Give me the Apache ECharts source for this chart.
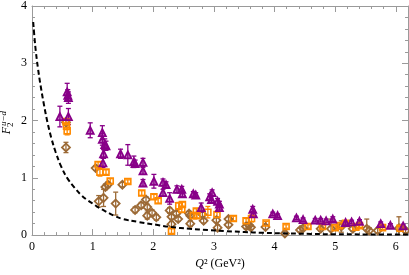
<!DOCTYPE html>
<html><head><meta charset="utf-8">
<script src="https://cdn.jsdelivr.net/npm/echarts/dist/echarts.min.js"></script>
<style>html,body{margin:0;padding:0;background:#fff}#c{width:409px;height:275px}</style>
</head><body><div id="c"></div>
<script>
// Dashed curve
const curveQ2 = [0.02,0.04,0.063,0.1,0.145,0.2,0.255,0.32,0.39,0.48,0.585,0.70,0.80,0.90,1.0,1.1,1.22,1.35,1.5,1.75,2.05,2.3,2.6,2.9,3.2,3.5,3.8,4.2,4.6,5.0,5.5,6.2];
const curveF  = [3.72,3.46,3.21,2.90,2.59,2.26,1.97,1.69,1.45,1.20,0.99,0.83,0.71,0.62,0.55,0.48,0.41,0.34,0.28,0.23,0.18,0.14,0.11,0.09,0.07,0.055,0.04,0.03,0.02,0.015,0.012,0.01];

// Purple triangles
const purpleQ2 = [0.58,0.59,0.60,0.46,0.60,0.96,1.16,1.16,1.20,1.22,1.18,1.17,1.46,1.58,1.68,1.70,1.83,1.83,1.83,2.01,2.16,2.21,2.16,2.27,2.39,2.47,2.48,2.66,2.70,2.79,2.93,2.96,2.97,3.06,3.09,3.09,3.64,3.65,3.97,4.05,4.36,4.47,4.67,4.76,4.85,4.96,5.17,5.27,5.40,5.75,5.91,6.12];
const purpleF  = [2.50,2.44,2.40,2.07,2.07,1.83,1.79,1.67,1.58,1.56,1.42,1.26,1.42,1.40,1.28,1.25,1.27,1.12,0.91,0.94,0.92,0.88,0.74,0.64,0.80,0.80,0.72,0.72,0.70,0.48,0.67,0.62,0.74,0.59,0.54,0.48,0.45,0.37,0.37,0.34,0.30,0.27,0.26,0.26,0.25,0.28,0.22,0.23,0.24,0.20,0.17,0.16];
const purpleErr= [0.15,0.10,0.10,0.18,0.14,0.13,0.12,0.10,0.10,0.08,0.08,0.08,0.08,0.18,0.10,0.06,0.07,0.06,0.06,0.12,0.06,0.05,0.06,0.10,0.06,0.05,0.05,0.04,0.04,0.08,0.05,0.05,0.05,0.05,0.05,0.04,0.05,0.04,0.03,0.03,0.03,0.03,0.03,0.03,0.03,0.04,0.03,0.03,0.03,0.03,0.03,0.03];

// Orange squares
const orangeQ2 = [0.56,0.57,0.58,1.09,1.12,1.22,1.29,1.58,1.81,2.01,2.08,2.30,2.42,2.47,2.48,2.66,2.71,2.72,2.90,3.05,3.32,3.53,3.62,3.86,4.19,4.55,4.79,5.00,5.07,5.17,5.34,5.40,5.78,6.07];
const orangeF  = [1.98,1.90,1.82,1.23,1.10,1.10,0.945,0.935,0.735,0.67,0.60,0.07,0.51,0.45,0.535,0.34,0.42,0.34,0.40,0.36,0.29,0.25,0.29,0.21,0.15,0.15,0.15,0.13,0.165,0.205,0.14,0.165,0.13,0.12];
const orangeErr= [0.06,0.06,0.07,0.05,0.07,0.04,0.04,0.03,0.04,0.04,0.04,0.04,0.06,0.05,0.04,0.04,0.04,0.04,0.10,0.04,0.04,0.04,0.06,0.03,0.03,0.03,0.03,0.03,0.03,0.03,0.03,0.03,0.03,0.03];

// Brown open markers
const brownQ2 = [0.56,0.56,1.05,1.10,1.18,1.21,1.25,1.38,1.49,1.70,1.80,1.88,1.90,1.90,1.98,2.05,2.27,2.30,2.30,2.38,2.41,2.59,2.61,2.61,2.81,2.83,3.04,3.06,3.24,3.24,3.53,3.58,3.61,3.85,4.17,4.42,4.47,4.76,4.93,5.10,5.29,5.52,5.56,5.70,6.05,6.16];
const brownF  = [1.97,1.53,1.17,0.59,0.65,0.84,0.88,0.55,0.88,0.44,0.52,0.62,0.49,0.34,0.39,0.31,0.43,0.32,0.19,0.375,0.28,0.375,0.20,0.34,0.36,0.25,0.26,0.13,0.28,0.18,0.15,0.17,0.135,0.14,0.03,0.09,0.12,0.11,0.11,0.15,0.11,0.11,0.08,0.08,0.12,0.08];
const brownErr= [0.05,0.09,0.04,0.10,0.15,0.05,0.05,0.20,0.04,0.05,0.05,0.05,0.05,0.06,0.05,0.05,0.05,0.04,0.05,0.04,0.04,0.04,0.05,0.04,0.04,0.04,0.04,0.05,0.04,0.04,0.04,0.04,0.04,0.04,0.04,0.04,0.04,0.04,0.17,0.10,0.04,0.17,0.05,0.04,0.20,0.04];

const xTicks = [0,1,2,3,4,5,6];
const yTicks = [0,1,2,3,4];

const PURPLE = '#880088', ORANGE = '#ff8a00', BROWN = '#9c6a36';
const AXC = '#9a9a9a';
const FONT = 'Liberation Serif';

function pairs(a, b) { return a.map((v, i) => [v, b[i]]); }
function errSeries(qs, fs, es, color, z) {
  return {
    type: 'custom', silent: true, z: z, clip: true,
    data: qs.map((q, i) => [q, Math.max(0, fs[i] - es[i]), fs[i] + es[i]]),
    encode: { x: 0, y: [1, 2] },
    renderItem: function (params, api) {
      const x = api.value(0);
      const lo = api.coord([x, api.value(1)]);
      const hi = api.coord([x, api.value(2)]);
      const w = 2.5;
      const st = { stroke: color, lineWidth: 1.3 };
      return { type: 'group', children: [
        { type: 'line', shape: { x1: lo[0], y1: lo[1], x2: hi[0], y2: hi[1] }, style: st },
        { type: 'line', shape: { x1: lo[0] - w, y1: lo[1], x2: lo[0] + w, y2: lo[1] }, style: st },
        { type: 'line', shape: { x1: hi[0] - w, y1: hi[1], x2: hi[0] + w, y2: hi[1] }, style: st }
      ]};
    }
  };
}
function scatter(qs, fs, color, symbol, size, fill, bw, z) {
  return {
    type: 'scatter', data: pairs(qs, fs), symbol: symbol, symbolSize: size, z: z,
    itemStyle: { color: fill, borderColor: color, borderWidth: bw, opacity: 1 },
    emphasis: { disabled: true }
  };
}

const axBase = {
  type: 'value', interval: 1,
  axisLine: { show: true, onZero: false, lineStyle: { color: AXC, width: 1 } },
  axisTick: { show: true, inside: true, length: 6, lineStyle: { color: AXC } },
  minorTick: { show: true, splitNumber: 5, length: 3, lineStyle: { color: AXC } },
  splitLine: { show: false }
};

const chart = echarts.init(document.getElementById('c'), null, { renderer: 'canvas' });
chart.setOption({
  animation: false,
  backgroundColor: '#fff',
  grid: { left: 32, right: 1, top: 4, bottom: 37, containLabel: false },
  xAxis: [
    Object.assign({}, axBase, { min: xTicks[0], max: 6.2, position: 'bottom',
      axisLabel: { margin: 6, color: '#000', fontFamily: FONT, fontSize: 12, showMaxLabel: false,
        formatter: v => xTicks.includes(v) ? String(v) : '' },
      name: '{i|Q}² (GeV²)', nameLocation: 'middle', nameGap: 21,
      nameTextStyle: { color: '#000', fontFamily: FONT, fontSize: 12, rich: { i: { fontStyle: 'italic', fontFamily: FONT, fontSize: 12, color: '#000' } } } }),
    Object.assign({}, axBase, { min: xTicks[0], max: 6.2, position: 'top', axisLabel: { show: false } })
  ],
  yAxis: [
    Object.assign({}, axBase, { min: yTicks[0], max: yTicks[yTicks.length - 1], position: 'left',
      axisLabel: { margin: 5, color: '#000', fontFamily: FONT, fontSize: 12 } }),
    Object.assign({}, axBase, { min: yTicks[0], max: yTicks[yTicks.length - 1], position: 'right', axisLabel: { show: false } })
  ],
  graphic: [{
    type: 'group', x: 7, y: 127, rotation: Math.PI / 2,
    children: [
      { type: 'text', x: 0, y: 0, style: { text: 'F', font: 'italic 12px "Liberation Serif"', fill: '#000', align: 'right', verticalAlign: 'middle' } },
      { type: 'text', x: 1, y: -3, style: { text: 'u−d', font: 'italic 9px "Liberation Serif"', fill: '#000', align: 'left', verticalAlign: 'middle' } },
      { type: 'text', x: 0, y: 4, style: { text: '2', font: '9px "Liberation Serif"', fill: '#000', align: 'left', verticalAlign: 'middle' } }
    ]
  }],
  series: [
    errSeries(brownQ2, brownF, brownErr, BROWN, 2),
    errSeries(orangeQ2, orangeF, orangeErr, ORANGE, 2),
    errSeries(purpleQ2, purpleF, purpleErr, PURPLE, 2),
    scatter(brownQ2, brownF, BROWN, 'diamond', 8, 'rgba(255,255,255,0)', 1.8, 3),
    scatter(orangeQ2, orangeF, ORANGE, 'rect', 6, 'rgba(255,255,255,0)', 1.6, 3),
    scatter(purpleQ2, purpleF, PURPLE, 'triangle', 7, 'rgba(136,0,136,0.45)', 1.8, 3),
    { type: 'line', data: pairs(curveQ2, curveF), smooth: 0.4, showSymbol: false, z: 4,
      lineStyle: { color: '#000', width: 2, type: [5, 3] }, emphasis: { disabled: true } }
  ]
});
</script></body></html>
